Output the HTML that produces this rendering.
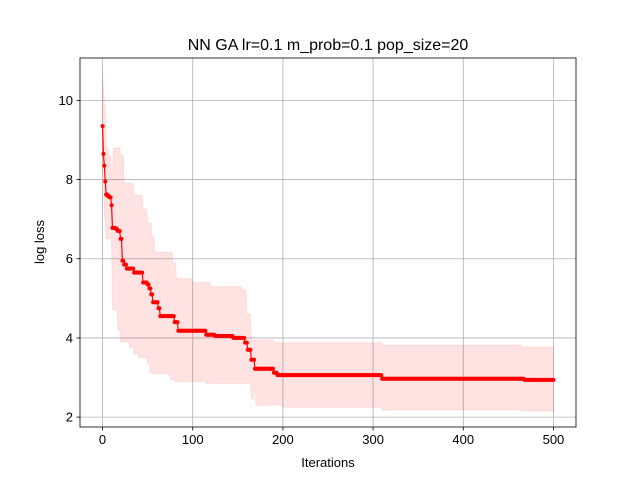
<!DOCTYPE html>
<html><head><meta charset="utf-8"><style>
body{margin:0;background:#fff}
svg text{font-family:"Liberation Sans","DejaVu Sans",sans-serif;fill:#000}
</style></head><body>
<svg id="chart" width="640" height="480">
<rect width="640" height="480" fill="#fff"/>
<g id="grid"></g><g id="band"></g><g id="line"></g><g id="axes"></g>
<text x="328" y="50" font-size="16" text-anchor="middle">NN GA lr=0.1 m_prob=0.1 pop_size=20</text>
<text x="328" y="467" font-size="13" text-anchor="middle">Iterations</text>
<text x="44" y="242" font-size="13" text-anchor="middle" transform="rotate(-90 44 242)">log loss</text>
</svg>
<script>
const meanSteps=[[0,9.35],[1,8.65],[2,8.35],[3,7.95],[4,7.62],[6,7.58],[8,7.55],[10,7.35],[11,6.78],[15,6.75],[17,6.7],[20,6.5],[22,5.95],[24,5.85],[27,5.75],[35,5.65],[45,5.4],[50,5.35],[52,5.25],[54,5.1],[56,4.9],[62,4.75],[64,4.55],[80,4.4],[84,4.18],[115,4.08],[125,4.05],[145,4.0],[158,3.88],[161,3.7],[165,3.45],[169,3.22],[190,3.12],[194,3.06],[310,2.97],[468,2.94]];
const upperSteps=[[0,10.7],[1,10.3],[2,9.9],[4,8.8],[7,8.6],[10,8.2],[12,8.8],[20,8.6],[24,7.9],[35,7.6],[45,7.25],[50,6.9],[55,6.55],[58,6.17],[78,5.9],[82,5.5],[100,5.4],[120,5.3],[155,5.2],[160,4.6],[165,3.95],[190,3.88],[310,3.82],[465,3.77]];
const lowerSteps=[[0,8.2],[2,7.0],[4,6.5],[10,6.4],[11,4.7],[17,4.2],[20,3.9],[30,3.75],[35,3.6],[40,3.5],[50,3.35],[53,3.1],[75,2.95],[80,2.9],[115,2.85],[165,2.45],[168,2.7],[170,2.3],[200,2.25],[310,2.18],[465,2.15]];
const xTicks=[0,100,200,300,400,500];
const yTicks=[2,4,6,8,10];
const N=501;
const L=80,R=576,T=58,B=427;
const xs=v=>L+(v+25)/550*(R-L);
const ys=v=>B-(v-1.75)/(11.07-1.75)*(B-T);
function stepAt(steps,i){let v=steps[0][1];for(const s of steps){if(s[0]<=i)v=s[1];}return v;}
const ns='http://www.w3.org/2000/svg';
function mk(t,a,p){const e=document.createElementNS(ns,t);for(const k in a)e.setAttribute(k,a[k]);p.appendChild(e);return e;}
const grid=document.getElementById('grid'),axes=document.getElementById('axes');
xTicks.forEach(t=>{
 const g=mk('line',{x1:xs(t),x2:xs(t),y1:T,y2:B,stroke:'#b0b0b0','stroke-width':0.8},grid);
 
 
 mk('line',{x1:xs(t),x2:xs(t),y1:B,y2:B+3.5,stroke:'#000','stroke-width':0.8},axes);
 const tx=mk('text',{x:xs(t),y:B+17,'font-size':13,'text-anchor':'middle'},axes);tx.textContent=t;
 
 
});
yTicks.forEach(t=>{
 const g=mk('line',{x1:L,x2:R,y1:ys(t),y2:ys(t),stroke:'#b0b0b0','stroke-width':0.8},grid);
 
 
 mk('line',{x1:L-3.5,x2:L,y1:ys(t),y2:ys(t),stroke:'#000','stroke-width':0.8},axes);
 const tx=mk('text',{x:L-7,y:ys(t)+4.5,'font-size':13,'text-anchor':'end'},axes);tx.textContent=t;
 
 
});
const fr=mk('rect',{x:L,y:T,width:R-L,height:B-T,fill:'none',stroke:'#000','stroke-width':0.8},axes);


let up=[],lo=[],pts=[];
for(let i=0;i<N;i++){up.push(xs(i)+','+ys(stepAt(upperSteps,i)));lo.push(xs(i)+','+ys(stepAt(lowerSteps,i)));pts.push([xs(i),ys(stepAt(meanSteps,i))]);}
const band=mk('polygon',{points:up.concat(lo.reverse()).join(' '),fill:'rgba(255,0,0,0.11)',stroke:'rgba(255,0,0,0.08)'},document.getElementById('band'));


const lg=document.getElementById('line');
const pl=mk('polyline',{points:pts.map(p=>p.join(',')).join(' '),fill:'none',stroke:'#f00','stroke-width':1.2},lg);


pts.forEach(p=>{const c=mk('circle',{cx:p[0],cy:p[1],r:2,fill:'#f00'},lg);
 
 });
</script>
</body></html>
